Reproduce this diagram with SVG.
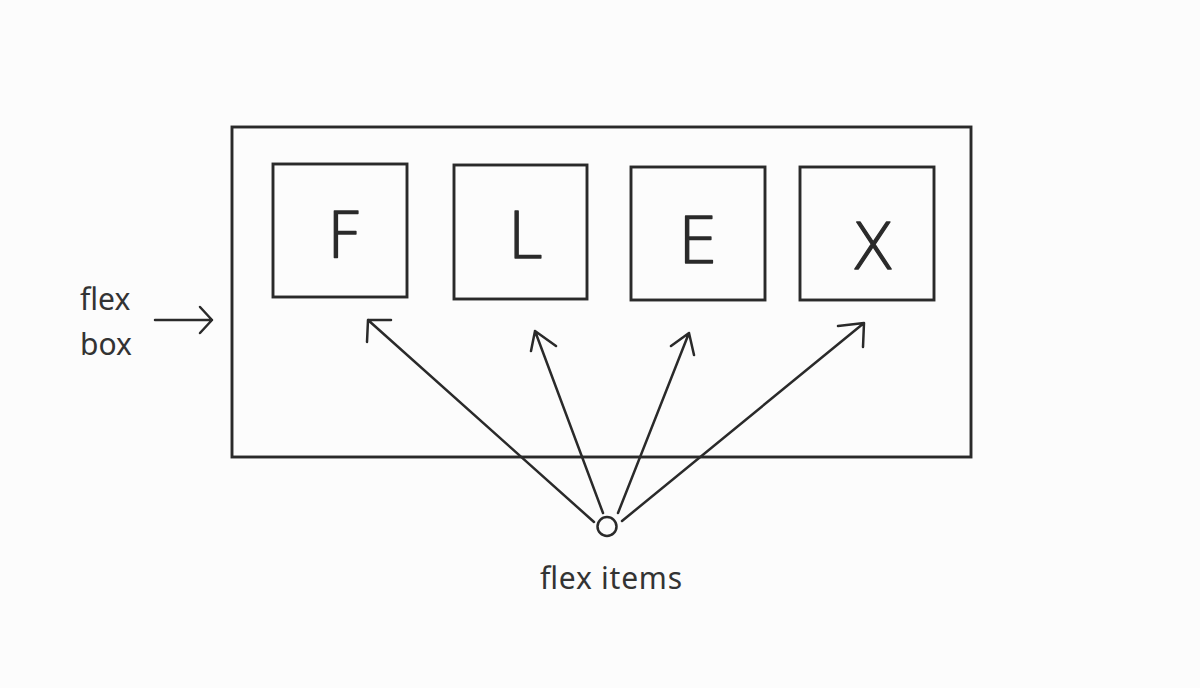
<svg xmlns="http://www.w3.org/2000/svg" width="1200" height="688" viewBox="0 0 1200 688">
<style>
.box{fill:none;stroke:#2a2a2a;stroke-width:2.9;stroke-linejoin:miter}
.ln{fill:none;stroke:#2a2a2a;stroke-width:2.5;stroke-linecap:round;stroke-linejoin:round}
.lbl{font-family:"Noto Sans","DejaVu Sans",sans-serif;font-size:30px;fill:#333}
.big{font-family:"DejaVu Sans","Noto Sans",sans-serif;font-weight:200;font-size:64px;fill:#2a2a2a;stroke:#2a2a2a;stroke-width:1.3;stroke-linejoin:round;text-anchor:middle}
</style>
<rect width="1200" height="688" fill="#fcfcfc"/>
<g id="flexbox"><rect class="box" x="232" y="127" width="739" height="330"/></g>
<g id="item-F"><rect class="box" x="273" y="164" width="134" height="133"/><text class="big" x="345" y="258">F</text></g>
<g id="item-L"><rect class="box" x="454" y="165" width="133" height="134"/><text class="big" x="525" y="258">L</text></g>
<g id="item-E"><rect class="box" x="631" y="167" width="134" height="133"/><text class="big" x="698" y="263">E</text></g>
<g id="item-X"><rect class="box" x="800" y="167" width="134" height="133"/><text class="big" x="873" y="269">X</text></g>
<g id="label-flexbox"><text class="lbl" x="80" y="310">flex</text><text class="lbl" x="80" y="355">box</text></g>
<g id="label-items"><circle class="ln" cx="607" cy="526.5" r="9.5"/><text class="lbl" x="540" y="589" textLength="142">flex items</text></g>
<g id="connectors">
<path class="ln" d="M155 320 H212 M200 307 L212 320 L200 333"/>
<path class="ln" d="M594 522 L368 320 M367 342 L368 320 L391 320"/>
<path class="ln" d="M603 513 L535 331 M531 351 L535 331 L556 346"/>
<path class="ln" d="M618 513 L689 333 M671 346 L689 333 L694 355"/>
<path class="ln" d="M622 521 L864 323 M838 326 L864 323 L863 347"/>
</g>
</svg>
